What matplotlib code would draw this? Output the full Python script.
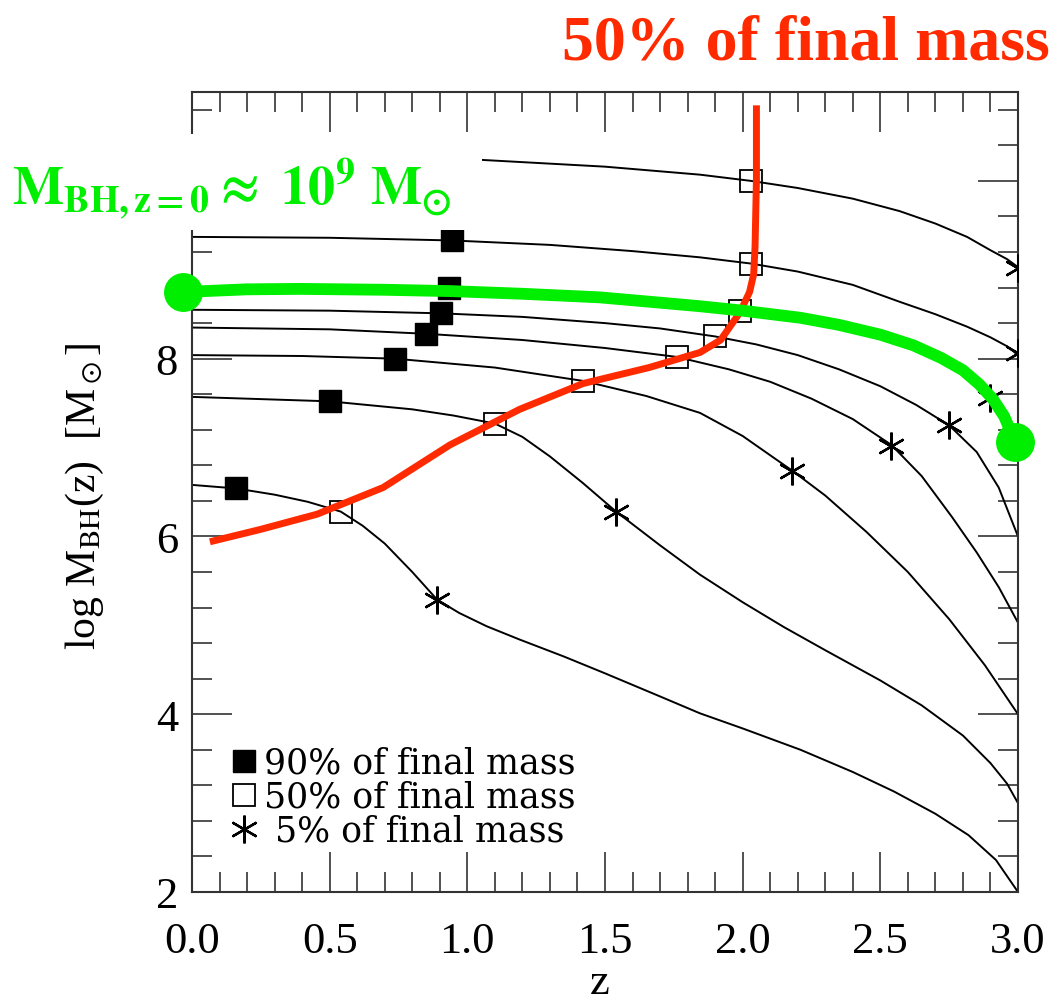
import numpy as np
import matplotlib.pyplot as plt
from matplotlib.lines import Line2D
from matplotlib.patches import Rectangle
from matplotlib.ticker import MultipleLocator, FormatStrFormatter, FuncFormatter

plt.rcParams['font.family'] = ['Liberation Serif', 'DejaVu Serif']
plt.rcParams['mathtext.fontset'] = 'stix'

# black growth tracks: redshift z and log M_BH(z)
z1 = [0, 0.5, 1.0, 1.5, 1.845, 2.03, 2.2, 2.4, 2.57, 2.7, 2.815, 2.9, 2.96, 3.0]
m1 = [10.32, 10.29, 10.245, 10.16, 10.07, 10.0, 9.92, 9.8, 9.66, 9.52, 9.37, 9.22, 9.12, 9.03]
z2 = [0, 0.5, 0.944, 1.3, 1.6, 1.845, 2.03, 2.2, 2.4, 2.57, 2.7, 2.815, 2.9, 2.96, 3.0]
m2 = [9.37, 9.36, 9.33, 9.28, 9.21, 9.14, 9.07, 8.98, 8.83, 8.64, 8.5, 8.36, 8.24, 8.14, 8.04]
z3 = [0, 0.5, 0.934, 1.2, 1.48, 1.7, 1.845, 2.0, 2.21, 2.35, 2.5, 2.62, 2.72, 2.8, 2.86, 2.91, 2.95, 3.0]
m3 = [8.79, 8.78, 8.76, 8.73, 8.69, 8.63, 8.59, 8.54, 8.46, 8.38, 8.27, 8.15, 8.01, 7.87, 7.71, 7.54, 7.35, 7.0]
z4 = [0, 0.5, 0.904, 1.2, 1.5, 1.7, 1.9, 2.05, 2.2, 2.35, 2.5, 2.63, 2.75, 2.85, 2.93, 3.0]
m4 = [8.55, 8.54, 8.51, 8.47, 8.4, 8.34, 8.25, 8.16, 8.04, 7.88, 7.69, 7.48, 7.25, 6.95, 6.55, 6.0]
z5 = [0, 0.5, 0.85, 1.2, 1.5, 1.76, 1.95, 2.1, 2.25, 2.4, 2.54, 2.65, 2.76, 2.85, 2.93, 3.0]
m5 = [8.35, 8.33, 8.28, 8.21, 8.12, 8.02, 7.88, 7.74, 7.55, 7.32, 7.03, 6.68, 6.22, 5.82, 5.43, 5.03]
z6 = [0, 0.4, 0.737, 1.1, 1.42, 1.65, 1.845, 2.0, 2.18, 2.3, 2.45, 2.6, 2.75, 2.88, 3.0]
m6 = [8.04, 8.03, 8.0, 7.9, 7.75, 7.58, 7.39, 7.13, 6.74, 6.46, 6.05, 5.6, 5.07, 4.55, 4.0]
z7 = [0, 0.5, 0.8, 0.95, 1.1, 1.2, 1.3, 1.42, 1.54, 1.7, 1.845, 2.0, 2.15, 2.3, 2.5, 2.65, 2.8, 2.9, 2.96, 3.0]
m7 = [7.57, 7.52, 7.43, 7.36, 7.27, 7.12, 6.9, 6.6, 6.28, 5.9, 5.57, 5.26, 4.98, 4.72, 4.38, 4.1, 3.76, 3.45, 3.22, 3.0]
z8 = [0, 0.16, 0.3, 0.42, 0.54, 0.62, 0.7, 0.8, 0.89, 0.97, 1.07, 1.19, 1.35, 1.5, 1.7, 1.845, 2.0, 2.21,
      2.4, 2.55, 2.7, 2.82, 2.92, 3.0]
m8 = [6.58, 6.54, 6.47, 6.39, 6.28, 6.12, 5.92, 5.6, 5.29, 5.14, 4.99, 4.84, 4.65, 4.46, 4.2, 4.01, 3.84, 3.6,
      3.35, 3.13, 2.88, 2.64, 2.36, 2.0]

# markers
p90_z = [0.95, 0.944, 0.934, 0.904, 0.85, 0.737, 0.50, 0.16]
p90_m = [10.27, 9.33, 8.79, 8.51, 8.28, 8.0, 7.52, 6.54]
p50_z = [2.03, 2.03, 1.99, 1.90, 1.76, 1.42, 1.10, 0.54]
p50_m = [10.0, 9.07, 8.54, 8.25, 8.02, 7.75, 7.27, 6.28]
p5_z = [3.0, 3.0, 2.90, 2.75, 2.54, 2.18, 1.54, 0.89]
p5_m = [9.02, 8.06, 7.56, 7.25, 7.02, 6.74, 6.28, 5.29]

# red: 50% of final mass
red_z = [0.065, 0.25, 0.454, 0.694, 0.937, 1.19, 1.42, 1.66, 1.845, 1.92, 1.99, 2.025, 2.04, 2.045, 2.05, 2.05]
red_m = [5.94, 6.08, 6.25, 6.55, 7.03, 7.43, 7.72, 7.90, 8.07, 8.21, 8.52, 8.75, 8.95, 9.26, 10.01, 10.85]

# green: highlighted 1e9 track
green_z = [-0.033, 0.2, 0.39, 0.7, 0.94, 1.2, 1.48, 1.7, 1.845, 2.0, 2.21, 2.35, 2.5, 2.62, 2.72, 2.8,
           2.86, 2.91, 2.95, 2.99]
green_m = [8.75, 8.78, 8.785, 8.775, 8.76, 8.73, 8.69, 8.63, 8.59, 8.54, 8.46, 8.38, 8.27, 8.15, 8.01, 7.87,
           7.71, 7.54, 7.35, 7.06]

legend_labels = ['90% of final mass', '50% of final mass', ' 5% of final mass']

fig = plt.figure(figsize=(10.57, 10.03), dpi=100)
ax = fig.add_axes([192/1057, 110/1003, 826/1057, 800/1003])

for zz, mm in [(z1, m1), (z2, m2), (z3, m3), (z4, m4), (z5, m5), (z6, m6), (z7, m7), (z8, m8)]:
    ax.plot(zz, mm, color='black', lw=1.4, zorder=2, solid_joinstyle='round')

star = (6, 2, 0)
ax.plot(p90_z, p90_m, ls='none', marker='s', ms=15.5, color='black', zorder=3)
ax.plot(p50_z, p50_m, ls='none', marker='s', ms=16, mfc='none', mec='black', mew=1.3, zorder=3)
ax.plot(p5_z, p5_m, ls='none', marker=star, ms=20, mec='black', mew=1.7, zorder=3)

ax.plot(red_z, red_m, color='#ff2a00', lw=5, zorder=5, solid_capstyle='butt', solid_joinstyle='round')
ax.plot(green_z, green_m, color='#00ee00', lw=8.5, zorder=6, clip_on=False, solid_joinstyle='round')
ax.plot([green_z[0], green_z[-1]], [green_m[0], green_m[-1]], ls='none', marker='o',
        ms=27, color='#00ee00', clip_on=False, zorder=7)

ax.set_xlim(0, 3)
ax.set_ylim(2, 11)
ax.xaxis.set_major_locator(MultipleLocator(0.5))
ax.xaxis.set_minor_locator(MultipleLocator(0.1))
ax.yaxis.set_major_locator(MultipleLocator(2))
ax.yaxis.set_minor_locator(MultipleLocator(0.4))
ax.xaxis.set_major_formatter(FormatStrFormatter('%.1f'))
# the 10 label sits under the white patch of the green label
ax.yaxis.set_major_formatter(FuncFormatter(lambda v, p: '' if v > 9 else '%d' % v))
ax.tick_params(which='both', direction='in', top=True, right=True, width=1.1, color='#222222')
ax.tick_params(which='major', length=29)
ax.tick_params(which='minor', length=14.5)
ax.tick_params(axis='x', pad=21, labelsize=32)
ax.tick_params(axis='y', pad=10, labelsize=32)
for s in ax.spines.values():
    s.set_linewidth(1.5)
    s.set_color('#333333')

handles = [Line2D([], [], ls='none', marker='s', ms=15.5, color='black'),
           Line2D([], [], ls='none', marker='s', ms=16, mfc='none', mec='black', mew=1.3),
           Line2D([], [], ls='none', marker=star, ms=20, mec='black', mew=1.7)]
ax.legend(handles, legend_labels, loc='upper left', bbox_to_anchor=(234/1057, 1 - 747/1003),
          bbox_transform=fig.transFigure, frameon=False,
          prop={'family': 'DejaVu Serif', 'size': 25}, handlelength=0.6,
          handletextpad=0.25, labelspacing=0.0, borderpad=0, borderaxespad=0)

fig.text(85/1057, 1 - 496/1003, r'log M$_{\rm BH}$(z)  [M$_\odot$]', rotation=90,
         fontsize=30, ha='center', va='center')
fig.text(600/1057, 1 - 983/1003, 'z', fontsize=32, ha='center', va='center')

# white patch behind the green label
fig.patches.append(Rectangle((0, (1003 - 231)/1003), 482/1057, 96/1003, transform=fig.transFigure,
                             facecolor='white', edgecolor='none', zorder=5))
fig.text(12/1057, 1 - 205/1003, r'$\mathbf{M_{BH,z=0}{\approx}\ 10^9\ M_{\odot}}$',
         color='#00ee00', fontsize=39, ha='left', va='baseline', zorder=6)
fig.text(1050/1057, 1 - 60/1003, '50% of final mass', color='#ff2a00', fontsize=46,
         fontweight='bold', ha='right', va='baseline')

fig.savefig('out.png', dpi=100)
